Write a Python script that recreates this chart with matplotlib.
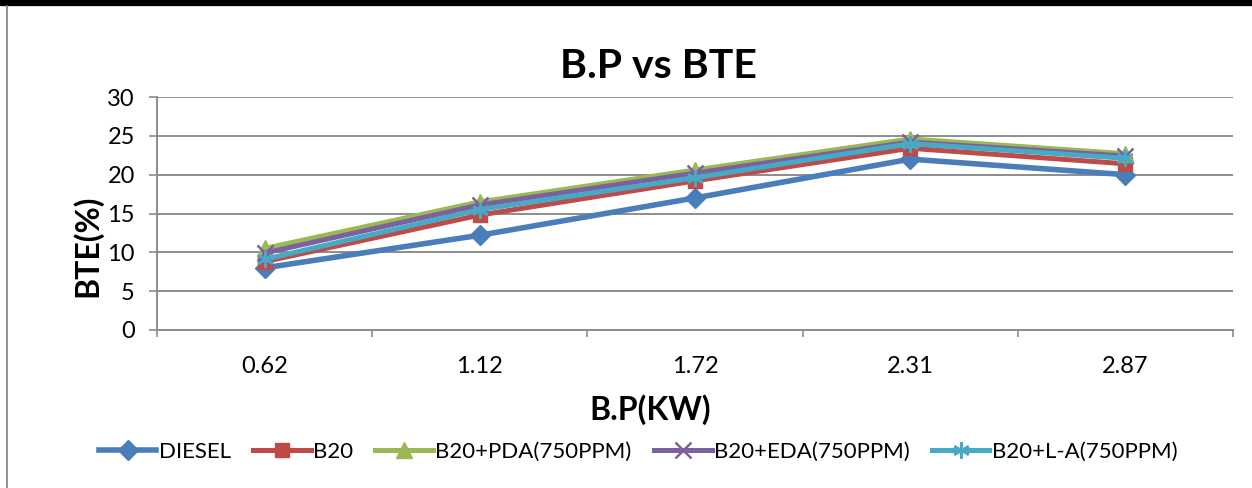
import matplotlib
matplotlib.use('Agg')
import matplotlib.pyplot as plt
from matplotlib.lines import Line2D

# Dados
bp = ['0.62', '1.12', '1.72', '2.31', '2.87']
diesel = [8.0, 12.2, 17.0, 22.0, 20.0]
b20 = [8.8, 14.8, 19.2, 23.4, 21.4]
b20_pda = [10.5, 16.5, 20.6, 24.6, 22.7]
b20_eda = [9.9, 16.1, 20.2, 24.2, 22.4]
b20_la = [9.1, 15.5, 19.6, 24.0, 22.1]

series = [
    ('DIESEL', diesel, '#4A7EBB', 'D', 10),
    ('B20', b20, '#BE4B48', 's', 10),
    ('B20+PDA(750PPM)', b20_pda, '#98B954', '^', 11),
    ('B20+EDA(750PPM)', b20_eda, '#7D60A0', 'x', 11),
    ('B20+L-A(750PPM)', b20_la, '#46AAC5', (6, 2, 0), 12),
]

plt.rcParams['font.family'] = ['Lato', 'DejaVu Sans']

W, H = 1252, 488
fig = plt.figure(figsize=(W / 100, H / 100), dpi=100)

# moldura da página (barra preta no topo e linha à esquerda)
fig.add_artist(Line2D([0, 1], [1 - 3 / H, 1 - 3 / H], color='black', lw=4.5))
fig.add_artist(Line2D([7 / W, 7 / W], [0, 1 - 6 / H], color='#808080', lw=1.2))

left, right, top, bottom = 157, 1233, 97, 330
ax = fig.add_axes([left / W, 1 - bottom / H, (right - left) / W, (bottom - top) / H])

x = list(range(len(bp)))
for nome, valores, cor, marcador, ms in series:
    mew = 1.8 if marcador in ('x', (6, 2, 0)) else 1
    lw = 4 if nome == 'DIESEL' else 3.6
    ax.plot(x, valores, color=cor, lw=lw, marker=marcador, markersize=ms,
            markeredgewidth=mew, markeredgecolor=cor, markerfacecolor=cor, label=nome,
            solid_joinstyle='round')

ax.set_xlim(-0.5, len(bp) - 0.5)
ax.set_ylim(0, 30)
ax.set_yticks(range(0, 31, 5))
ax.set_xticks(x)
ax.set_xticklabels(bp)
ax.set_xticks([i - 0.5 for i in range(len(bp) + 1)], minor=True)

ax.grid(axis='y', color='#8C8C8C', lw=1.4)
ax.set_axisbelow(True)
for s in ['top', 'right']:
    ax.spines[s].set_visible(False)
for s in ['left', 'bottom']:
    ax.spines[s].set_color('#8C8C8C')
    ax.spines[s].set_linewidth(1.4)

ax.tick_params(axis='y', direction='out', length=6, width=1.2, color='#8C8C8C',
               labelsize=17, pad=10)
ax.tick_params(axis='x', which='major', length=0, labelsize=17, pad=19)
ax.tick_params(axis='x', which='minor', direction='out', length=5, width=1.2,
               color='#8C8C8C')

fig.text(658 / W, 1 - 66 / H, 'B.P vs BTE', ha='center', va='center',
         fontsize=29.5, fontweight='bold')
fig.text(650 / W, 1 - 410 / H, 'B.P(KW)', ha='center', va='center',
         fontsize=23, fontweight='bold')
fig.text(87 / W, 1 - 246 / H, 'BTE(%)', ha='center', va='center', rotation=90,
         fontsize=23, fontweight='bold')

fig.legend(loc='center', bbox_to_anchor=(638 / W, 1 - 452 / H), ncol=5,
           frameon=False, fontsize=16, handlelength=2.6, handletextpad=0.1,
           columnspacing=1.0, borderaxespad=0)

fig.savefig('out.png', dpi=100)
